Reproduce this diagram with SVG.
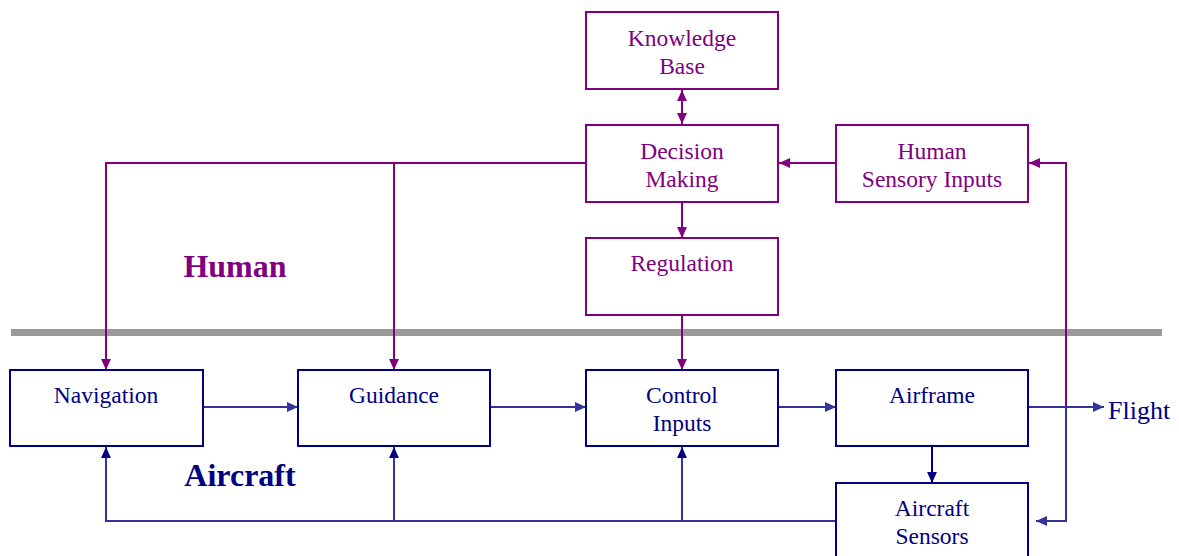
<svg xmlns="http://www.w3.org/2000/svg" width="1179" height="556" viewBox="0 0 1179 556">
<style>
.hb{fill:#fff;stroke:#800080;stroke-width:2}
.ab{fill:#fff;stroke:#000080;stroke-width:2}
.ht{font-family:"Liberation Serif","Times New Roman",serif;font-size:23.5px;fill:#800080;text-anchor:middle}
.at{font-family:"Liberation Serif","Times New Roman",serif;font-size:23.5px;fill:#000080;text-anchor:middle}
.hc{fill:none;stroke:#800080;stroke-width:2}
.ac{fill:none;stroke:#333399;stroke-width:2}
.an{fill:none;stroke:#000080;stroke-width:2}
</style>
<defs>
<marker id="mp" viewBox="0 0 10 10" refX="10" refY="5" markerWidth="11" markerHeight="11" markerUnits="userSpaceOnUse" orient="auto-start-reverse"><path d="M0,0.5 L10,5 L0,9.5 z" fill="#800080"/></marker>
<marker id="mb" viewBox="0 0 10 10" refX="10" refY="5" markerWidth="11" markerHeight="11" markerUnits="userSpaceOnUse" orient="auto-start-reverse"><path d="M0,0.5 L10,5 L0,9.5 z" fill="#333399"/></marker>
<marker id="mn" viewBox="0 0 10 10" refX="10" refY="5" markerWidth="11" markerHeight="11" markerUnits="userSpaceOnUse" orient="auto-start-reverse"><path d="M0,0.5 L10,5 L0,9.5 z" fill="#000080"/></marker>
</defs>
<rect x="11" y="329" width="1151" height="7" fill="#999999"/>
<text x="235" y="277" font-family="Liberation Serif, Times New Roman, serif" font-size="32" font-weight="bold" fill="#800080" text-anchor="middle">Human</text>
<text x="240" y="486" font-family="Liberation Serif, Times New Roman, serif" font-size="32" font-weight="bold" fill="#000080" text-anchor="middle">Aircraft</text>
<g id="connectors">
<path class="hc" d="M682,90 V124" marker-start="url(#mp)" marker-end="url(#mp)"/>
<path class="hc" d="M836,163 H779" marker-end="url(#mp)"/>
<path class="hc" d="M682,202 V238" marker-end="url(#mp)"/>
<path class="hc" d="M586,163 H106 V370" marker-end="url(#mp)"/>
<path class="hc" d="M394,163 V370" marker-end="url(#mp)"/>
<path class="hc" d="M682,315 V370" marker-end="url(#mp)"/>
<path class="hc" d="M1066,407 V163 H1029" marker-end="url(#mp)"/>
<path class="ac" d="M1066,406 V521 H1036" marker-end="url(#mb)"/>
<path class="ac" d="M203,407 H298" marker-end="url(#mb)"/>
<path class="ac" d="M490,407 H586" marker-end="url(#mb)"/>
<path class="ac" d="M778,407 H836" marker-end="url(#mb)"/>
<path class="ac" d="M1028,407 H1104" marker-end="url(#mb)"/>
<path class="an" d="M932,446 V483" marker-end="url(#mn)"/>
<path class="ac" d="M836,521 H106 V447" marker-end="url(#mn)"/>
<path class="ac" d="M394,521 V447" marker-end="url(#mn)"/>
<path class="ac" d="M682,521 V447" marker-end="url(#mn)"/>
</g>
<g id="knowledge-base"><rect class="hb" x="586" y="12" width="192" height="77"/><text class="ht" x="682" y="46">Knowledge</text><text class="ht" x="682" y="74">Base</text></g>
<g id="decision-making"><rect class="hb" x="586" y="125" width="192" height="77"/><text class="ht" x="682" y="159">Decision</text><text class="ht" x="682" y="187">Making</text></g>
<g id="human-sensory-inputs"><rect class="hb" x="836" y="125" width="192" height="77"/><text class="ht" x="932" y="159">Human</text><text class="ht" x="932" y="187">Sensory Inputs</text></g>
<g id="regulation"><rect class="hb" x="586" y="238" width="192" height="77"/><text class="ht" x="682" y="271">Regulation</text></g>
<g id="navigation"><rect class="ab" x="10" y="370" width="193" height="76"/><text class="at" x="106" y="403">Navigation</text></g>
<g id="guidance"><rect class="ab" x="298" y="370" width="192" height="76"/><text class="at" x="394" y="403">Guidance</text></g>
<g id="control-inputs"><rect class="ab" x="586" y="370" width="192" height="76"/><text class="at" x="682" y="403">Control</text><text class="at" x="682" y="431">Inputs</text></g>
<g id="airframe"><rect class="ab" x="836" y="370" width="192" height="76"/><text class="at" x="932" y="403">Airframe</text></g>
<g id="aircraft-sensors"><rect class="ab" x="836" y="483" width="192" height="85"/><text class="at" x="932" y="516">Aircraft</text><text class="at" x="932" y="544">Sensors</text></g>
<g id="flight"><text x="1108" y="419" font-family="Liberation Serif, Times New Roman, serif" font-size="26" fill="#000080">Flight</text></g>
</svg>
